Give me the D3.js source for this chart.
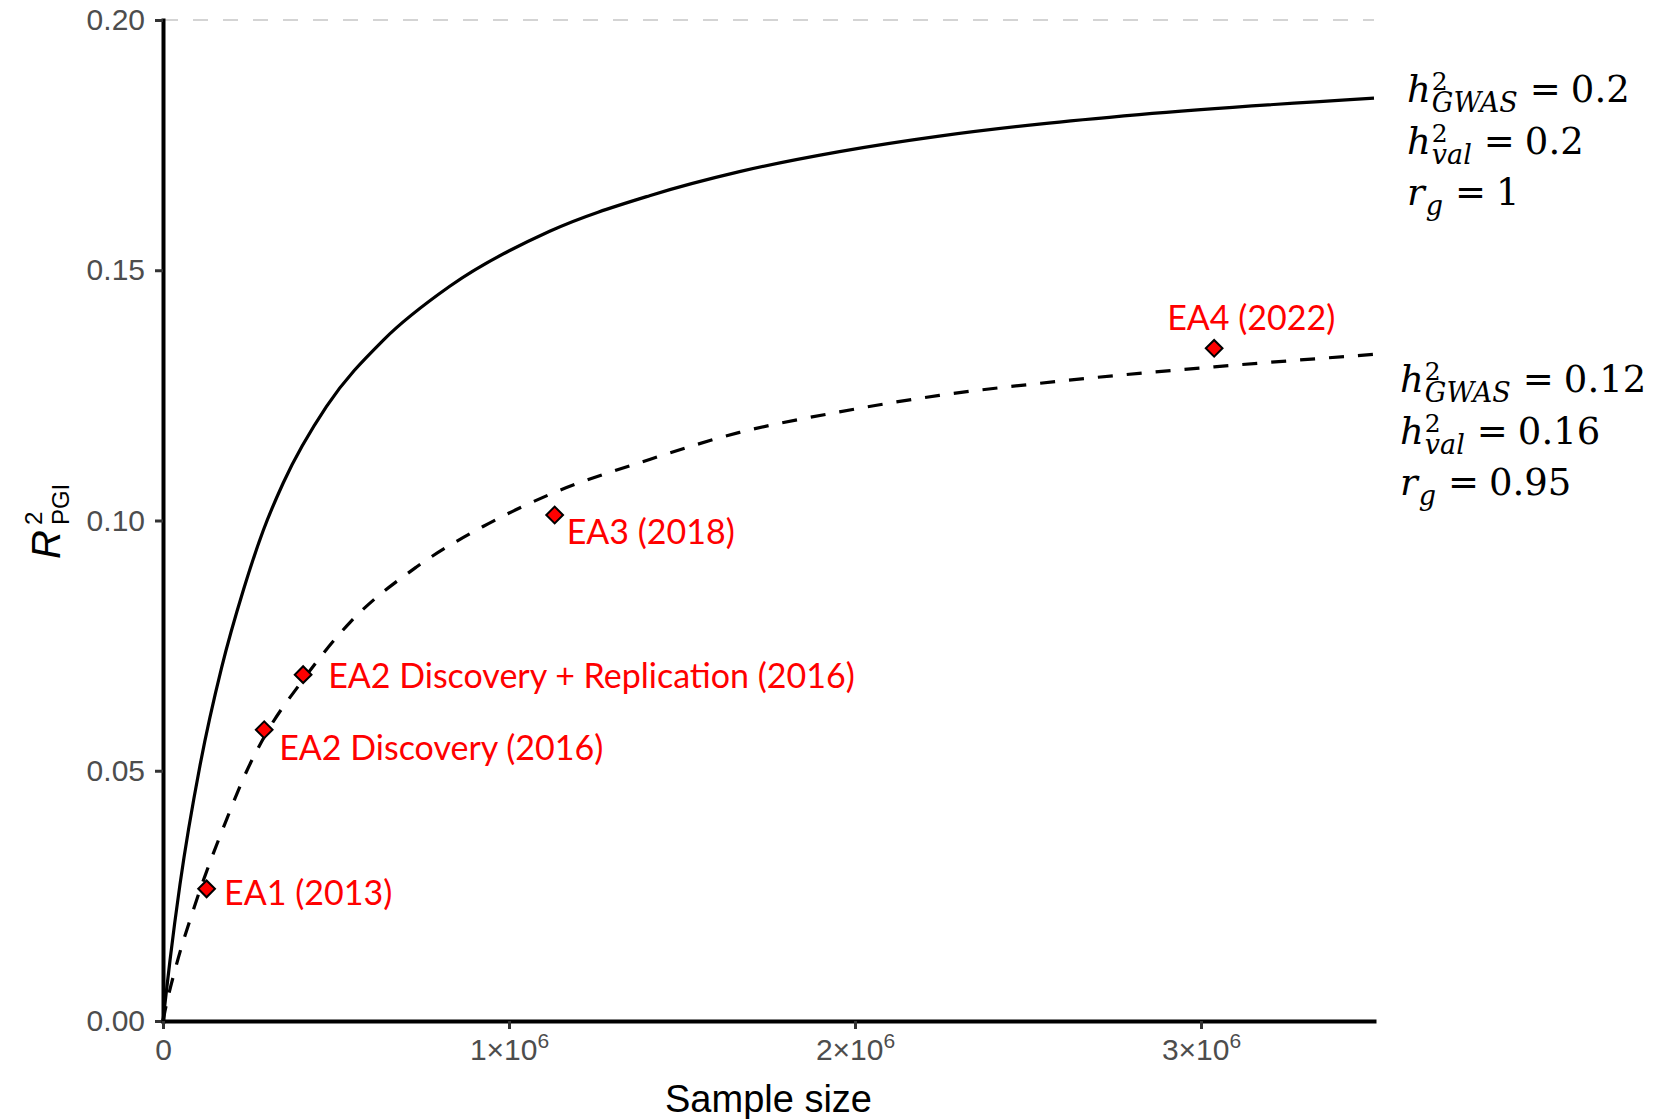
<!DOCTYPE html>
<html>
<head>
<meta charset="utf-8">
<script src="https://cdn.jsdelivr.net/npm/d3@7"></script>
<style>
  html, body { margin: 0; padding: 0; background: #ffffff; }
  svg { display: block; }
</style>
</head>
<body>
<svg id="chart" width="1660" height="1119"></svg>
<script>
// Expected PGI prediction accuracy (R²) as a function of GWAS sample size.

// Curve 1: h²_GWAS = 0.2, h²_val = 0.2, r_g = 1 (solid)
const solidN = [0, 8700, 20200, 49100, 106800, 169400, 231900, 289700, 347400, 472700,
  636200, 828800, 1117500, 1406300, 1666200, 1955000, 2243700, 2532500, 2821200, 3500000];
const solidR2 = [0, 0.0053, 0.0121, 0.0273, 0.0510, 0.0706, 0.0860, 0.0980, 0.1075, 0.1228,
  0.1360, 0.1468, 0.1578, 0.1649, 0.1697, 0.1737, 0.1768, 0.1792, 0.1811, 0.1844];

// Curve 2: h²_GWAS = 0.12, h²_val = 0.16, r_g = 0.95 (dashed)
const dashedN = [0, 5800, 39500, 87600, 184000, 241700, 294500, 405100, 540000, 732500,
  925000, 1117500, 1406300, 1666200, 1955000, 2243700, 2532500, 2821200, 3038000, 3500000];
const dashedR2 = [0, 0.0020, 0.0114, 0.0222, 0.0403, 0.0499, 0.0570, 0.0682, 0.0796, 0.0907,
  0.0988, 0.1052, 0.1122, 0.1176, 0.1217, 0.1250, 0.1274, 0.1294, 0.1307, 0.1332];

// Educational attainment GWAS results
const studyNames = ["EA1 (2013)", "EA2 Discovery (2016)", "EA2 Discovery + Replication (2016)", "EA3 (2018)", "EA4 (2022)"];
const studyN = [126000, 292500, 405000, 1132000, 3038000];
const studyR2 = [0.0264, 0.0582, 0.0692, 0.1011, 0.1344];

// Axis ticks
const xTickValues = [0, 1e6, 2e6, 3e6];
const xTickMantissa = ["0", "1", "2", "3"];
const xTickExponent = ["", "6", "6", "6"];
const yTickValues = [0, 0.05, 0.10, 0.15, 0.20];
const yTickLabels = ["0.00", "0.05", "0.10", "0.15", "0.20"];

// Parameter annotations for each curve
const solidParams = [
  { sym: "h", sup: "2", sub: "GWAS", val: "0.2" },
  { sym: "h", sup: "2", sub: "val", val: "0.2" },
  { sym: "r", sup: "", sub: "g", val: "1" }
];
const dashedParams = [
  { sym: "h", sup: "2", sub: "GWAS", val: "0.12" },
  { sym: "h", sup: "2", sub: "val", val: "0.16" },
  { sym: "r", sup: "", sub: "g", val: "0.95" }
];

// ---- layout ----
const plot = { left: 163, right: 1374, top: 20, bottom: 1021 };
// label placement relative to each point (px)
const labelOffsets = [[17.5, 15.7], [15, 30], [25, 13], [12, 29], [-47, -18.7]];

const svg = d3.select("#chart");

const x = d3.scaleLinear().domain([0, 3.5e6]).range([plot.left, plot.right]);
const y = d3.scaleLinear().domain([0, 0.2]).range([plot.bottom, plot.top]);

// upper reference line at R² = 0.2
svg.append("line")
  .attr("x1", x(0)).attr("x2", x(3.5e6))
  .attr("y1", y(0.2)).attr("y2", y(0.2))
  .attr("stroke", "#d4d4d4")
  .attr("stroke-width", 2)
  .attr("stroke-dasharray", "15 15");

// curves
const line = d3.line()
  .x(d => x(d[0]))
  .y(d => y(d[1]))
  .curve(d3.curveMonotoneX);

const solidData = solidN.map((n, i) => [n, solidR2[i]]);
const dashedData = dashedN.map((n, i) => [n, dashedR2[i]]);

svg.append("path")
  .datum(solidData)
  .attr("d", line)
  .attr("fill", "none")
  .attr("stroke", "#000")
  .attr("stroke-width", 3.2);

svg.append("path")
  .datum(dashedData)
  .attr("d", line)
  .attr("fill", "none")
  .attr("stroke", "#000")
  .attr("stroke-width", 3.2)
  .attr("stroke-dasharray", "15 14");

// axes
const tickFont = "'Liberation Sans', Arial, sans-serif";

const yAxis = d3.axisLeft(y)
  .tickValues(yTickValues)
  .tickFormat((d, i) => yTickLabels[i])
  .tickSize(8)
  .tickSizeOuter(0)
  .tickPadding(10);

const gy = svg.append("g")
  .attr("transform", `translate(${plot.left},0)`)
  .call(yAxis);

const xAxis = d3.axisBottom(x)
  .tickValues(xTickValues)
  .tickFormat(() => "")
  .tickSize(8)
  .tickSizeOuter(0)
  .tickPadding(10);

const gx = svg.append("g")
  .attr("transform", `translate(0,${plot.bottom})`)
  .call(xAxis);

[gx, gy].forEach(g => {
  g.select(".domain")
    .attr("stroke", "#000")
    .attr("stroke-width", 4)
    .attr("stroke-linecap", "square");
  g.selectAll(".tick line")
    .attr("stroke", "#333333")
    .attr("stroke-width", 3);
  g.selectAll(".tick text")
    .attr("fill", "#4d4d4d")
    .attr("font-family", tickFont)
    .attr("font-size", 30);
});

// x tick labels in scientific notation: m × 10^6
gx.selectAll(".tick text").each(function (d, i) {
  const t = d3.select(this);
  t.text(null);
  if (xTickExponent[i] === "") {
    t.append("tspan").text(xTickMantissa[i]);
  } else {
    t.append("tspan").text(xTickMantissa[i] + "\u00D710");
    t.append("tspan").attr("font-size", 21).attr("dy", "-0.6em").text(xTickExponent[i]);
  }
});

// axis titles
svg.append("text")
  .attr("x", (plot.left + plot.right) / 2)
  .attr("y", 1112)
  .attr("text-anchor", "middle")
  .attr("font-family", tickFont)
  .attr("font-size", 38)
  .attr("fill", "#000")
  .text("Sample size");

const yTitle = svg.append("text")
  .attr("transform", "translate(60,559) rotate(-90)")
  .attr("font-family", tickFont)
  .attr("fill", "#000");
const rGlyph = yTitle.append("tspan")
  .attr("x", 0).attr("y", 0)
  .attr("font-style", "italic")
  .attr("font-size", 40)
  .text("R");
const rWidth = rGlyph.node().getComputedTextLength();
yTitle.append("tspan")
  .attr("x", rWidth + 5)
  .attr("y", -18)
  .attr("font-size", 24)
  .text("2");
yTitle.append("tspan")
  .attr("x", rWidth + 5)
  .attr("y", 9)
  .attr("font-size", 24)
  .text("PGI");

// study points
const labelFont = "Lato, 'Open Sans', sans-serif";
const diamond = d3.symbol().type(d3.symbolSquare).size(140);

const studies = svg.append("g");
studyNames.forEach((name, i) => {
  const px = x(studyN[i]);
  const py = y(studyR2[i]);
  studies.append("path")
    .attr("d", diamond)
    .attr("transform", `translate(${px},${py}) rotate(45)`)
    .attr("fill", "#ff0000")
    .attr("stroke", "#000")
    .attr("stroke-width", 2);
  studies.append("text")
    .attr("x", px + labelOffsets[i][0])
    .attr("y", py + labelOffsets[i][1])
    .attr("font-family", labelFont)
    .attr("font-size", 34)
    .attr("fill", "#ff0000")
    .text(name);
});

// parameter annotations, one text element per line
const mathFont = "'DejaVu Serif', 'Liberation Serif', serif";

function drawParams(params, x0, y0, lineGap) {
  const g = svg.append("g").attr("font-family", mathFont).attr("fill", "#000");
  params.forEach((p, i) => {
    const by = y0 + i * lineGap;
    const t = g.append("text");
    const base = t.append("tspan")
      .attr("x", x0).attr("y", by)
      .attr("font-style", "italic")
      .attr("font-size", 37)
      .text(p.sym);
    const sx = x0 + base.node().getComputedTextLength() + 1;
    let ext = 0;
    if (p.sup) {
      const s = t.append("tspan")
        .attr("x", sx).attr("y", by - 12)
        .attr("font-size", 25)
        .text(p.sup);
      ext = Math.max(ext, s.node().getComputedTextLength());
    }
    if (p.sub) {
      const s = t.append("tspan")
        .attr("x", sx).attr("y", by + 10)
        .attr("font-style", "italic")
        .attr("font-size", 27)
        .text(p.sub);
      ext = Math.max(ext, s.node().getComputedTextLength());
    }
    const ex = sx + ext + 12;
    const eq = t.append("tspan")
      .attr("x", ex).attr("y", by)
      .attr("font-size", 37)
      .text("=");
    t.append("tspan")
      .attr("x", ex + eq.node().getComputedTextLength() + 10)
      .attr("y", by)
      .attr("font-size", 37)
      .text(p.val);
  });
}

drawParams(solidParams, 1407, 102, 51.5);
drawParams(dashedParams, 1400, 392, 51.5);
</script>
</body>
</html>
